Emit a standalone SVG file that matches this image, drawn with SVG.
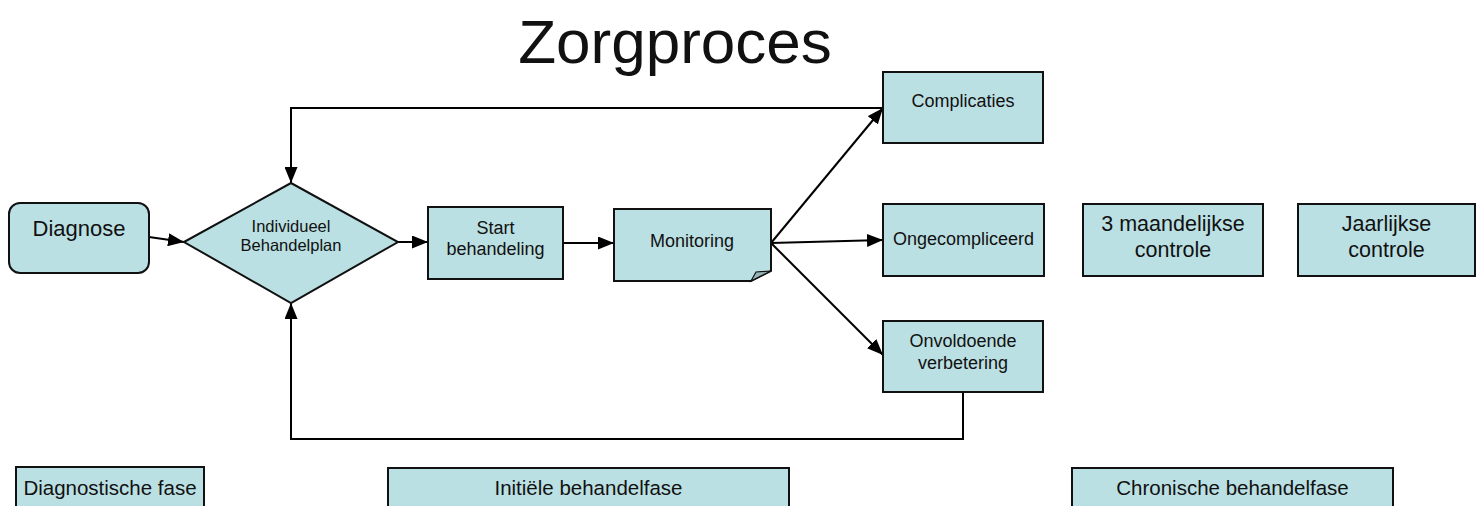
<svg xmlns="http://www.w3.org/2000/svg" width="1481" height="506" viewBox="0 0 1481 506">
<defs>
<style>
.box{fill:#BBE0E3;stroke:#111;stroke-width:2}
.t{font-family:"Liberation Sans",Arial,sans-serif;fill:#111;text-anchor:middle}
.c{fill:none;stroke:#000;stroke-width:2}
</style>
<marker id="ah" viewBox="0 0 16 13" refX="16" refY="6.5" markerWidth="16" markerHeight="13" markerUnits="userSpaceOnUse" orient="auto">
<path d="M0,0 L16,6.5 L0,13 Z" fill="#000"/>
</marker>
</defs>
<rect width="1481" height="506" fill="#fff"/>
<text class="t" x="675" y="63" font-size="62">Zorgproces</text>

<g id="connectors">
<line class="c" x1="149" y1="237" x2="184" y2="242" marker-end="url(#ah)"/>
<line class="c" x1="398" y1="242" x2="428" y2="242" marker-end="url(#ah)"/>
<line class="c" x1="563" y1="243" x2="614" y2="243" marker-end="url(#ah)"/>
<line class="c" x1="771" y1="243" x2="883" y2="108" marker-end="url(#ah)"/>
<line class="c" x1="771" y1="243" x2="883" y2="240" marker-end="url(#ah)"/>
<line class="c" x1="771" y1="243" x2="883" y2="355" marker-end="url(#ah)"/>
<polyline class="c" points="883,108 291,108 291,183" marker-end="url(#ah)"/>
<polyline class="c" points="963,392 963,439 291,439 291,303" marker-end="url(#ah)"/>
</g>

<g id="diagnose">
<rect class="box" x="9" y="203" width="140" height="70" rx="11"/>
<text class="t" x="79" y="236" font-size="22">Diagnose</text>
</g>
<g id="behandelplan">
<polygon class="box" points="184,242 291,183 398,242 291,303"/>
<text class="t" x="291" y="232" font-size="16.5">Individueel</text>
<text class="t" x="291" y="251" font-size="16.5">Behandelplan</text>
</g>
<g id="start">
<rect class="box" x="428" y="207" width="135" height="72"/>
<text class="t" x="495.5" y="234" font-size="18">Start</text>
<text class="t" x="495.5" y="255" font-size="18">behandeling</text>
</g>
<g id="monitoring">
<path class="box" d="M614,209 H771 V271 L751,281 H614 Z"/>
<path d="M751,281 L756,272 L771,271 Z" fill="#96B4B7" stroke="#111" stroke-width="1.2"/>
<text class="t" x="692" y="247" font-size="18">Monitoring</text>
</g>
<g id="complicaties">
<rect class="box" x="883" y="72" width="160" height="71"/>
<text class="t" x="963" y="107" font-size="18">Complicaties</text>
</g>
<g id="ongecompliceerd">
<rect class="box" x="883" y="204" width="161" height="72"/>
<text class="t" x="963.5" y="245" font-size="18">Ongecompliceerd</text>
</g>
<g id="onvoldoende">
<rect class="box" x="883" y="321" width="160" height="71"/>
<text class="t" x="963" y="347" font-size="18">Onvoldoende</text>
<text class="t" x="963" y="369" font-size="18">verbetering</text>
</g>
<g id="maandelijkse">
<rect class="box" x="1083" y="204" width="180" height="72"/>
<text class="t" x="1173" y="231" font-size="21.5">3 maandelijkse</text>
<text class="t" x="1173" y="257" font-size="21.5">controle</text>
</g>
<g id="jaarlijkse">
<rect class="box" x="1298" y="204" width="177" height="72"/>
<text class="t" x="1386.5" y="231" font-size="21.5">Jaarlijkse</text>
<text class="t" x="1386.5" y="257" font-size="21.5">controle</text>
</g>

<g id="fase-diagnostisch">
<rect class="box" x="16" y="467" width="188" height="45"/>
<text class="t" x="110" y="495" font-size="20.5">Diagnostische fase</text>
</g>
<g id="fase-initieel">
<rect class="box" x="388" y="468" width="401" height="45"/>
<text class="t" x="588.5" y="495" font-size="20.5">Initiële behandelfase</text>
</g>
<g id="fase-chronisch">
<rect class="box" x="1072" y="468" width="321" height="45"/>
<text class="t" x="1232.5" y="495" font-size="20.5">Chronische behandelfase</text>
</g>
</svg>
